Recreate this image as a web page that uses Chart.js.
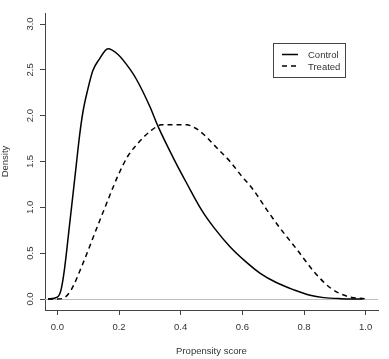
<!DOCTYPE html>
<html>
<head>
<meta charset="utf-8">
<script src="https://cdn.jsdelivr.net/npm/chart.js@4"></script>
<style>
  html, body { margin: 0; padding: 0; background: #fff; }
  #wrap { width: 389px; height: 359px; }
</style>
</head>
<body>
<div id="wrap"><canvas id="myChart" width="389" height="359"></canvas></div>
<script>
// Density estimates
var controlScore = [-0.03, 0.0, 0.012, 0.023, 0.039, 0.061, 0.072, 0.083, 0.099, 0.115, 0.137, 0.164, 0.196, 0.235, 0.256, 0.30, 0.327, 0.376, 0.42, 0.468, 0.51, 0.56, 0.61, 0.658, 0.71, 0.767, 0.82, 0.864, 0.92, 0.99];
var controlDensity = [0, 0.02, 0.10, 0.32, 0.79, 1.45, 1.78, 2.04, 2.29, 2.49, 2.62, 2.73, 2.67, 2.51, 2.40, 2.10, 1.88, 1.54, 1.26, 0.97, 0.77, 0.57, 0.41, 0.28, 0.18, 0.10, 0.04, 0.015, 0.004, 0];

var treatedScore = [-0.03, 0.0, 0.023, 0.045, 0.082, 0.131, 0.169, 0.196, 0.229, 0.267, 0.305, 0.338, 0.376, 0.419, 0.45, 0.473, 0.517, 0.56, 0.598, 0.636, 0.68, 0.723, 0.777, 0.832, 0.886, 0.94, 1.0];
var treatedDensity = [0, 0.0, 0.015, 0.10, 0.38, 0.80, 1.12, 1.34, 1.56, 1.72, 1.84, 1.90, 1.90, 1.90, 1.86, 1.80, 1.65, 1.50, 1.34, 1.19, 0.97, 0.77, 0.54, 0.30, 0.12, 0.03, 0.0];

var seriesNames = ["Control", "Treated"];
var xTicks = [0.0, 0.2, 0.4, 0.6, 0.8, 1.0];
var yTicks = [0.0, 0.5, 1.0, 1.5, 2.0, 2.5, 3.0];

var axisColor = '#444';
var textColor = '#333';
var fontFamily = '"Liberation Sans", Arial, sans-serif';
var fontSize = 9.5;

// Build {x, y} pairs for the line datasets
function toPoints(xs, ys) {
    var pts = [];
    for (var i = 0; i < xs.length; i++) {
        pts.push({ x: xs[i], y: ys[i] });
    }
    return pts;
}

// zero line + rotated y tick labels + boxed legend, like R's base graphics
var rStylePlugin = {
    id: 'rStyle',
    beforeDatasetsDraw: function(chart) {
        var ctx = chart.ctx;
        var area = chart.chartArea;
        var y0 = Math.round(chart.scales.y.getPixelForValue(0)) + 0.5;
        ctx.save();
        ctx.strokeStyle = '#bdbdbd';
        ctx.lineWidth = 1;
        ctx.beginPath();
        ctx.moveTo(area.left, y0);
        ctx.lineTo(area.right, y0);
        ctx.stroke();
        ctx.restore();
    },
    afterDraw: function(chart) {
        var ctx = chart.ctx;
        var area = chart.chartArea;
        var yScale = chart.scales.y;

        // y tick labels, vertical like las=0
        ctx.save();
        ctx.fillStyle = textColor;
        ctx.font = fontSize + 'px ' + fontFamily;
        ctx.textAlign = 'center';
        ctx.textBaseline = 'middle';
        yTicks.forEach(function(v) {
            ctx.save();
            ctx.translate(area.left - 15, yScale.getPixelForValue(v));
            ctx.rotate(-Math.PI / 2);
            ctx.fillText(v.toFixed(1), 0, 0);
            ctx.restore();
        });
        ctx.restore();

        // legend box in the top right corner
        var bx = area.right - 104.5;
        var by = area.top + 30.5;
        ctx.save();
        ctx.strokeStyle = axisColor;
        ctx.lineWidth = 1;
        ctx.strokeRect(bx, by, 72, 34);
        ctx.font = fontSize + 'px ' + fontFamily;
        ctx.fillStyle = textColor;
        ctx.textBaseline = 'middle';
        chart.data.datasets.forEach(function(ds, i) {
            var ly = by + 11 + i * 11.5;
            ctx.strokeStyle = '#000';
            ctx.lineWidth = 1.5;
            ctx.setLineDash(ds.borderDash || []);
            ctx.beginPath();
            ctx.moveTo(bx + 8.5, ly);
            ctx.lineTo(bx + 24.5, ly);
            ctx.stroke();
            ctx.setLineDash([]);
            ctx.fillText(ds.label, bx + 34.5, ly + 1);
        });
        ctx.restore();
    }
};

var ctx = document.getElementById('myChart').getContext('2d');

var chart = new Chart(ctx, {
    type: 'line',
    data: {
        datasets: [
            {
                label: seriesNames[0],
                data: toPoints(controlScore, controlDensity),
                borderColor: '#000',
                borderWidth: 1.5,
                pointRadius: 0,
                fill: false,
                cubicInterpolationMode: 'monotone'
            },
            {
                label: seriesNames[1],
                data: toPoints(treatedScore, treatedDensity),
                borderColor: '#000',
                borderWidth: 1.5,
                borderDash: [5, 4],
                pointRadius: 0,
                fill: false,
                cubicInterpolationMode: 'monotone'
            }
        ]
    },
    options: {
        responsive: false,
        animation: false,
        layout: { padding: { left: 0, top: 13, right: 11, bottom: 0 } },
        plugins: {
            legend: { display: false },
            tooltip: { enabled: false }
        },
        scales: {
            x: {
                type: 'linear',
                min: -0.04,
                max: 1.04,
                afterBuildTicks: function(scale) {
                    scale.ticks = xTicks.map(function(v) { return { value: v }; });
                },
                afterFit: function(scale) { scale.height = 49; },
                grid: {
                    drawOnChartArea: false,
                    drawTicks: true,
                    tickLength: 5,
                    color: axisColor
                },
                border: { display: true, color: axisColor, width: 1 },
                ticks: {
                    color: textColor,
                    font: { family: fontFamily, size: fontSize },
                    padding: 7,
                    maxRotation: 0,
                    callback: function(v) { return Number(v).toFixed(1); }
                },
                title: {
                    display: true,
                    text: 'Propensity score',
                    color: textColor,
                    font: { family: fontFamily, size: fontSize },
                    padding: { top: 0, bottom: 2 }
                }
            },
            y: {
                type: 'linear',
                min: -0.12,
                max: 3.12,
                afterBuildTicks: function(scale) {
                    scale.ticks = yTicks.map(function(v) { return { value: v }; });
                },
                afterFit: function(scale) { scale.width = 45; },
                grid: {
                    drawOnChartArea: false,
                    drawTicks: true,
                    tickLength: 5,
                    color: axisColor
                },
                border: { display: true, color: axisColor, width: 1 },
                ticks: {
                    display: false
                },
                title: {
                    display: true,
                    text: 'Density',
                    color: textColor,
                    font: { family: fontFamily, size: fontSize },
                    padding: { top: 0, bottom: 0 }
                }
            }
        }
    },
    plugins: [rStylePlugin]
});
</script>
</body>
</html>
